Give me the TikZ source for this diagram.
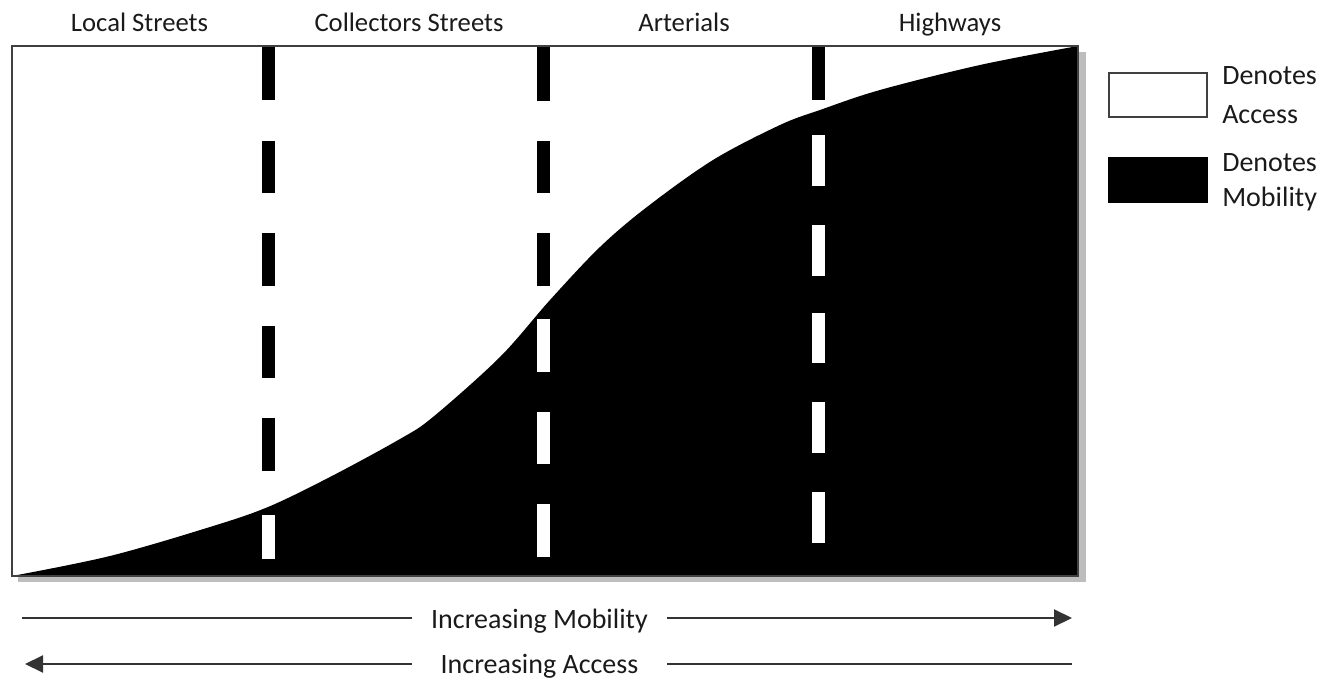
\documentclass[tikz,border=0pt]{standalone}
\usepackage{fontspec}
\setmainfont{Carlito}
\usetikzlibrary{arrows.meta}
\definecolor{txtcol}{HTML}{1A1A1A}
\definecolor{linecol}{HTML}{333333}
\definecolor{framecol}{HTML}{404040}
\definecolor{shadowcol}{HTML}{BDBDBD}
\def\mobilitycurve{plot[smooth, tension=0.55] coordinates {(12,576) (110,556) (210,527) (268,507) (330,477) (400,439) (433,417) (500,357) (550,300) (600,247) (647,207) (713,160) (780,125) (820,110) (880,90) (980,65) (1078,46)}}
\begin{document}
\begin{tikzpicture}[x=0.75pt,y=-0.75pt,
  toplbl/.style={font=\fontsize{20}{24}\selectfont, text=txtcol, inner sep=0pt, anchor=base},
  legtxt/.style={font=\fontsize{21}{25}\selectfont, text=txtcol, inner sep=0pt, anchor=base west},
  axislbl/.style={font=\fontsize{21}{25}\selectfont, text=txtcol, inner sep=0pt, anchor=base, minimum width=191.25pt},
  axisline/.style={draw=linecol, line width=1.5pt},
  tipend/.style={-{Triangle[length=13.5pt,width=12.75pt]}},
  legbox/.style={draw=framecol, line width=1.2pt, minimum width=73.5pt, minimum height=33pt, inner sep=0pt}
]
\useasboundingbox (0,0) rectangle (1323,680);
% shadow
\fill[shadowcol] (18,52) rectangle (1086,582);
% access area
\fill[white] (12,46) rectangle (1078,576);
% mobility area
\fill[black] \mobilitycurve -- (1078,576) -- cycle;
% dashed separators (black everywhere first)
\foreach \a/\b in {47/100,141/193,233/286,326/378,418/471,515/559}
  \fill[black] (262,\a) rectangle (275,\b);
\foreach \a/\b in {47/101,141/193,233/286,319/372,412/464,504/557}
  \fill[black] (537,\a) rectangle (550,\b);
\foreach \a/\b in {47/100,135/186,225/276,313/363,402/453,492/543}
  \fill[black] (812,\a) rectangle (825,\b);
% white where they lie in the mobility area
\begin{scope}
  \clip \mobilitycurve -- (1078,576) -- cycle;
  \foreach \a/\b in {47/100,141/193,233/286,326/378,418/471,515/559}
    \fill[white] (262,\a) rectangle (275,\b);
  \foreach \a/\b in {47/101,141/193,233/286,319/372,412/464,504/557}
    \fill[white] (537,\a) rectangle (550,\b);
  \foreach \a/\b in {47/100,135/186,225/276,313/363,402/453,492/543}
    \fill[white] (812,\a) rectangle (825,\b);
\end{scope}
% frame
\draw[framecol, line width=1.5pt] (12,46) rectangle (1078,576);
% top labels
\node[toplbl] (local) at (139.5,32) {Local Streets};
\node[toplbl] (collect) at (409,32) {Collectors Streets};
\node[toplbl] (arter) at (684,32) {Arterials};
\node[toplbl] (highw) at (950,32) {Highways};
% legend
\node[legbox, fill=white] (accbox) at (1158,95) {};
\node[legbox, fill=black, draw=black] (mobbox) at (1158,180) {};
\node[legtxt] (den1) at (1222,85) {Denotes};
\node[legtxt] (acc) at (1222,124) {Access};
\node[legtxt] (den2) at (1222,172) {Denotes};
\node[legtxt] (mob) at (1222,207) {Mobility};
% axes
\coordinate (mstart) at (22,618);
\coordinate (mend) at (1072,618);
\coordinate (astart) at (1072,664);
\coordinate (aend) at (25,664);
\node[axislbl] (mobtxt) at (539.5,628) {Increasing Mobility};
\node[axislbl] (acctxt) at (539.5,673) {Increasing Access};
\draw[axisline] (mstart) -- (mobtxt.west |- mstart);
\draw[axisline, tipend] (mobtxt.east |- mend) -- (mend);
\draw[axisline] (astart) -- (acctxt.east |- astart);
\draw[axisline, tipend] (acctxt.west |- aend) -- (aend);
\end{tikzpicture}
\end{document}
